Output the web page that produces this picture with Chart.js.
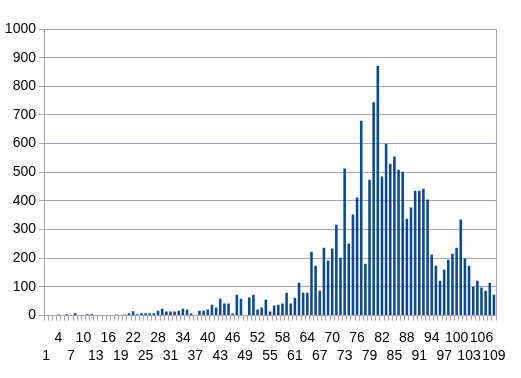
<!DOCTYPE html>
<html>
<head>
<meta charset="utf-8">
<script src="https://cdn.jsdelivr.net/npm/chart.js@4"></script>
<style>
  body { margin: 0; background: #fff; }
</style>
</head>
<body>
<canvas id="barCanvas" width="521" height="378"></canvas>
<script>
const categories = [
    1, 2, 3, 4, 5, 6, 7, 8, 9, 10, 11, 12, 13, 14, 15, 16, 17, 18, 19, 20,
    21, 22, 23, 24, 25, 26, 27, 28, 29, 30, 31, 32, 33, 34, 35, 36, 37, 38, 39, 40,
    41, 42, 43, 44, 45, 46, 47, 48, 49, 50, 51, 52, 53, 54, 55, 56, 57, 58, 59, 60,
    61, 62, 63, 64, 65, 66, 67, 68, 69, 70, 71, 72, 73, 74, 75, 76, 77, 78, 79, 80,
    81, 82, 83, 84, 85, 86, 87, 88, 89, 90, 91, 92, 93, 94, 95, 96, 97, 98, 99, 100,
    101, 102, 103, 104, 105, 106, 107, 108, 109
];

const counts = [
    0, 0, 0, 4, 0, 5, 0, 8, 0, 0, 5, 5, 0, 0, 0, 0, 0, 4, 0, 4,
    8, 15, 5, 8, 8, 8, 8, 17, 24, 14, 14, 14, 17, 24, 21, 7, 0, 17, 17, 21,
    38, 28, 59, 42, 42, 7, 73, 59, 0, 63, 73, 21, 28, 56, 14, 35, 38, 42, 80, 42,
    62, 115, 80, 80, 223, 174, 87, 237, 192, 234, 317, 202, 513, 252, 353, 412, 680, 181, 474, 744,
    872, 485, 600, 530, 555, 509, 502, 338, 377, 436, 436, 443, 405, 213, 174, 122, 160, 195, 216, 237,
    335, 199, 174, 101, 122, 98, 87, 115, 73
];

const yTicks = { min: 0, max: 1000, step: 100 };

(() => {
    const ctx = document.getElementById('barCanvas').getContext('2d');
    const gridColor = '#a9a1b3';
    const tickFont = { family: '"Liberation Sans", Arial, sans-serif', size: 14, lineHeight: 1.3 };

    // right edge of the plot box
    const plotBorder = {
        id: 'plotBorder',
        afterDraw(chart) {
            const a = chart.chartArea;
            const c = chart.ctx;
            c.save();
            c.strokeStyle = gridColor;
            c.lineWidth = 1;
            c.beginPath();
            c.moveTo(Math.round(a.right) + 0.5, a.top);
            c.lineTo(Math.round(a.right) + 0.5, a.bottom);
            c.stroke();
            c.restore();
        }
    };

    new Chart(ctx, {
        type: 'bar',
        data: {
            labels: categories,
            datasets: [{
                data: counts,
                backgroundColor: '#0b4a8e',
                barPercentage: 0.62,
                categoryPercentage: 1.0
            }]
        },
        options: {
            responsive: false,
            animation: false,
            layout: { padding: { top: 29, right: 25, bottom: 5, left: 0 } },
            plugins: {
                legend: { display: false },
                tooltip: { enabled: false }
            },
            scales: {
                x: {
                    grid: { offset: true, drawOnChartArea: false, tickLength: 5, color: gridColor },
                    border: { color: gridColor },
                    ticks: {
                        autoSkip: false,
                        maxRotation: 0,
                        padding: 8,
                        color: '#000',
                        font: tickFont,
                        callback: function (value, index) {
                            if (index % 3 !== 0) return '';
                            const label = String(categories[index]);
                            // staggered in two rows
                            return (index / 3) % 2 === 1 ? [label] : ['', label];
                        }
                    }
                },
                y: {
                    min: yTicks.min,
                    max: yTicks.max,
                    afterFit: (scale) => { scale.width = 44; },
                    grid: { color: gridColor, tickLength: 5 },
                    border: { color: gridColor },
                    ticks: {
                        stepSize: yTicks.step,
                        padding: 3,
                        color: '#000',
                        font: tickFont,
                        callback: (v) => String(v)
                    }
                }
            }
        },
        plugins: [plotBorder]
    });
})();
</script>
</body>
</html>
